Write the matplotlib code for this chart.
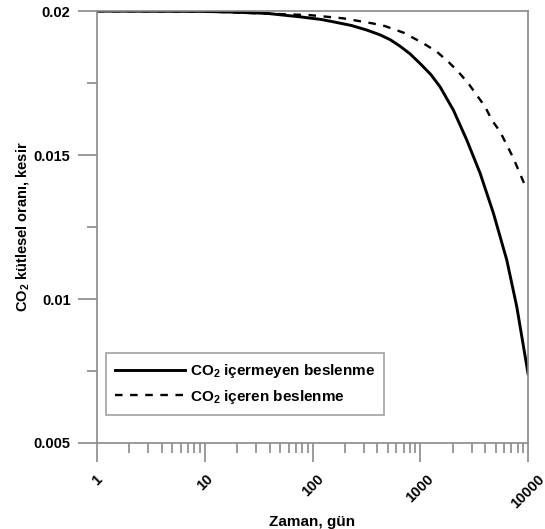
import matplotlib
matplotlib.use("Agg")
import matplotlib.pyplot as plt
from matplotlib.ticker import FixedLocator, LogLocator, NullFormatter

plt.rcParams['font.family'] = ['Liberation Sans', 'DejaVu Sans']
plt.rcParams['font.weight'] = 'bold'
plt.rcParams['mathtext.fontset'] = 'custom'
plt.rcParams['mathtext.rm'] = 'Liberation Sans:bold'
plt.rcParams['mathtext.bf'] = 'Liberation Sans:bold'
plt.rcParams['mathtext.default'] = 'bf'

# Data
solid_x = [1, 10, 20, 38, 77, 120, 155, 230, 320, 420, 524, 649, 800, 995, 1250,
           1525, 2027, 2699, 3586, 4767, 6345, 7852, 10000]
solid_y = [0.02, 0.01999, 0.01996, 0.01992, 0.0198, 0.01971, 0.01963, 0.0195,
           0.01934, 0.01918, 0.01901, 0.01878, 0.01852, 0.01818, 0.0178,
           0.01737, 0.01656, 0.01552, 0.01437, 0.01298, 0.01135, 0.00973, 0.0074]

dashed_x = [1, 10, 95, 192, 364, 470, 700, 1068, 1421, 1820, 2253, 2790, 3340,
            3991, 4603, 5500, 6345, 7310, 8130, 9180, 10000]
dashed_y = [0.02, 0.01999, 0.01986, 0.01975, 0.01957, 0.01948, 0.01925, 0.01888,
            0.01859, 0.01824, 0.01789, 0.01749, 0.01708, 0.01668, 0.01622,
            0.01581, 0.01535, 0.01489, 0.01448, 0.01402, 0.0138]

label_solid = r'CO$_2$ içermeyen beslenme'
label_dashed = r'CO$_2$ içeren beslenme'

x_ticks = [1, 10, 100, 1000, 10000]
x_tick_labels = ['1', '10', '100', '1000', '10000']
y_ticks = [0.005, 0.01, 0.015, 0.02]
y_tick_labels = ['0.005', '0.01', '0.015', '0.02']
y_minor = [0.0075, 0.0125, 0.0175]

fig = plt.figure(figsize=(5.45, 5.29), dpi=100)
ax = fig.add_axes([0.178, 0.1626, 0.791, 0.8164])

ax.plot(solid_x, solid_y, color='black', lw=2.1, ls='-', label=label_solid)
ax.plot(dashed_x, dashed_y, color='black', lw=1.7, ls=(0, (3.2, 3.2)), label=label_dashed)

ax.set_xscale('log')
ax.set_xlim(1, 10000)
ax.set_ylim(0.005, 0.02)

ax.set_xticks(x_ticks)
ax.set_xticklabels(x_tick_labels, rotation=45, ha='center', va='top')
ax.xaxis.set_minor_locator(LogLocator(base=10, subs=range(2, 10)))
ax.xaxis.set_minor_formatter(NullFormatter())
ax.set_yticks(y_ticks)
ax.set_yticklabels(y_tick_labels)
ax.yaxis.set_minor_locator(FixedLocator(y_minor))

grey = '#8a8a8a'
for s in ax.spines.values():
    s.set_color(grey)
    s.set_linewidth(1.2)
ax.tick_params(which='major', direction='out', length=14, width=1.2, color=grey,
               labelsize=10.5, pad=5)
ax.tick_params(which='minor', direction='out', length=7, width=1.2, color=grey)
ax.tick_params(axis='x', which='major', pad=7)

ax.set_xlabel('Zaman, gün', fontsize=11, fontweight='bold')
ax.xaxis.set_label_coords(0.5, -0.166)
ax.set_ylabel(r'CO$_2$ kütlesel oranı, kesir', fontsize=10.5, fontweight='bold')
ax.yaxis.set_label_coords(-0.153, 0.5)

leg = ax.legend(loc='lower left', bbox_to_anchor=(0.02, 0.065), fontsize=11,
                frameon=True, fancybox=False, handlelength=4.6, borderpad=0.6,
                labelspacing=0.5, handletextpad=0.3, borderaxespad=0)
leg.get_frame().set_edgecolor(grey)
leg.get_frame().set_linewidth(1.2)
for t in leg.get_texts():
    t.set_fontweight('bold')

fig.savefig('out.png', dpi=100)
